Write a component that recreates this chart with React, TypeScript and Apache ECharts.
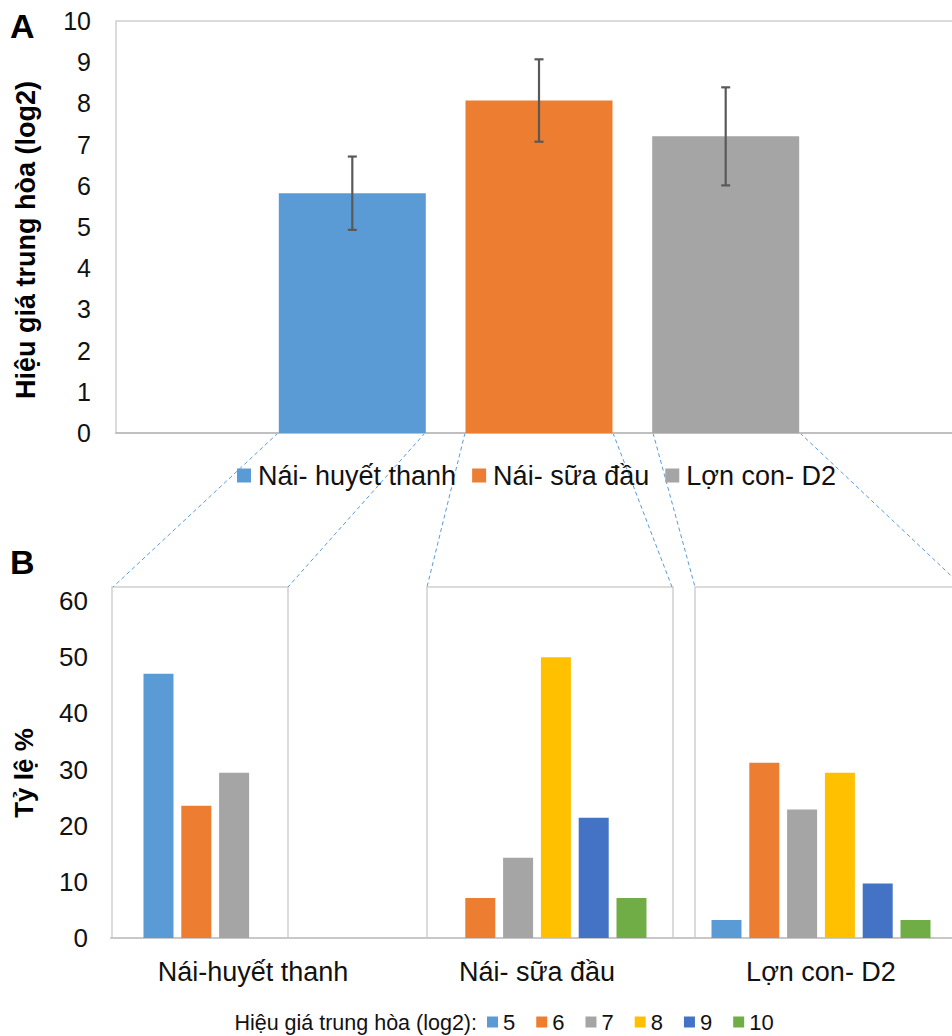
import React, { useEffect, useRef } from "react";
import * as echarts from "echarts";

// Panel A data
const groupNamesA = ["Nái- huyết thanh", "Nái- sữa đầu", "Lợn con- D2"];
const meansA = [5.82, 8.07, 7.2];
const errA = [0.89, 1.0, 1.19];
const colorsA = ["#5B9BD5", "#ED7D31", "#A5A5A5"];

// Panel B data
const categoriesB = ["Nái-huyết thanh", "Nái- sữa đầu", "Lợn con- D2"];
const levelNames = ["5", "6", "7", "8", "9", "10"];
const lvl5 = [47.06, null, 3.2];
const lvl6 = [23.53, 7.1, 31.2];
const lvl7 = [29.41, 14.3, 22.9];
const lvl8 = [null, 50.0, 29.4];
const lvl9 = [null, 21.4, 9.7];
const lvl10 = [null, 7.1, 3.2];
const levelData = [lvl5, lvl6, lvl7, lvl8, lvl9, lvl10];
const colorsB = ["#5B9BD5", "#ED7D31", "#A5A5A5", "#FFC000", "#4472C4", "#70AD47"];

const yTicksA = { min: 0, max: 10, interval: 1 };
const yTicksB = { min: 0, max: 60, interval: 10 };

const FONT = "'Liberation Sans', Arial, sans-serif";
const TXT = "#111111";
const BAR_W_A = 147;
const GAP_A = 0.27;

export default function App() {
  const ref = useRef<HTMLDivElement>(null);
  useEffect(() => {
    if (!ref.current) return;
    const chart = echarts.init(ref.current, null, { renderer: "svg" });

    const seriesA = meansA.map((v, i) => ({
      type: "bar",
      name: groupNamesA[i],
      xAxisIndex: 0,
      yAxisIndex: 0,
      data: [v],
      barWidth: BAR_W_A,
      barGap: GAP_A * 100 + "%",
      itemStyle: { color: colorsA[i] },
    }));

    const errSeries = {
      type: "custom",
      name: "err",
      xAxisIndex: 0,
      yAxisIndex: 0,
      z: 5,
      data: meansA.map((m, i) => [0, m - errA[i], m + errA[i], i]),
      renderItem: (params: any, api: any) => {
        const idx = api.value(3);
        const offset = (idx - 1) * (BAR_W_A * (1 + GAP_A));
        const lo = api.coord([api.value(0), api.value(1)]);
        const hi = api.coord([api.value(0), api.value(2)]);
        const x = lo[0] + offset;
        const st = { stroke: "#595959", lineWidth: 2.2 };
        return {
          type: "group",
          children: [
            { type: "line", shape: { x1: x, y1: lo[1], x2: x, y2: hi[1] }, style: st },
            { type: "line", shape: { x1: x - 4.5, y1: lo[1], x2: x + 4.5, y2: lo[1] }, style: st },
            { type: "line", shape: { x1: x - 4.5, y1: hi[1], x2: x + 4.5, y2: hi[1] }, style: st },
          ],
        };
      },
    };

    const seriesB = levelNames.map((n, i) => ({
      type: "bar",
      name: n,
      xAxisIndex: 1,
      yAxisIndex: 1,
      data: levelData[i],
      barWidth: 30,
      barGap: "26%",
      itemStyle: { color: colorsB[i] },
    }));

    const dash = { stroke: "#5B9BD5", lineWidth: 1, lineDash: [4, 3] };
    const boxStyle = { stroke: "#d0d0d0", lineWidth: 1.5, fill: "none" };
    const connectors = [
      [278, 433, 113, 587],
      [425, 433, 288, 587],
      [465, 433, 427, 587],
      [613, 433, 672, 587],
      [653, 433, 695, 587],
      [800, 433, 963, 587],
    ];
    const boxes = [
      [112, 587, 176, 351],
      [427, 587, 246, 351],
      [695, 587, 268, 351],
    ];

    chart.setOption({
      animation: false,
      textStyle: { fontFamily: FONT },
      grid: [
        { left: 116, top: 21, width: 846, height: 412, show: true, borderColor: "#d0d0d0", borderWidth: 1.5 },
        { left: 111, top: 601, width: 852, height: 337 },
      ],
      xAxis: [
        {
          type: "category",
          gridIndex: 0,
          data: [""],
          axisLine: { lineStyle: { color: "#c0c0c0", width: 2 } },
          axisTick: { show: false },
          axisLabel: { show: false },
        },
        {
          type: "category",
          gridIndex: 1,
          data: categoriesB,
          axisLine: { lineStyle: { color: "#c8c8c8", width: 2 } },
          axisTick: { show: false },
          axisLabel: { fontSize: 27, color: TXT, margin: 20, fontFamily: FONT },
        },
      ],
      yAxis: [
        {
          type: "value",
          gridIndex: 0,
          ...yTicksA,
          axisLine: { show: false },
          axisTick: { show: false },
          splitLine: { show: false },
          axisLabel: { fontSize: 25, color: TXT, margin: 25, fontFamily: FONT },
        },
        {
          type: "value",
          gridIndex: 1,
          ...yTicksB,
          axisLine: { show: false },
          axisTick: { show: false },
          splitLine: { show: false },
          axisLabel: { fontSize: 26, color: TXT, margin: 23, fontFamily: FONT },
        },
      ],
      legend: [
        {
          data: groupNamesA,
          left: 237,
          top: 462,
          padding: 0,
          icon: "rect",
          itemWidth: 14,
          itemHeight: 14,
          itemGap: 16,
          textStyle: { fontSize: 27, color: TXT, fontFamily: FONT, padding: [0, 0, 0, 2] },
        },
        {
          data: levelNames,
          left: 487,
          top: 1011,
          padding: 0,
          icon: "rect",
          itemWidth: 11,
          itemHeight: 11,
          itemGap: 21,
          textStyle: { fontSize: 22, color: TXT, fontFamily: FONT },
        },
      ],
      graphic: [
        ...boxes.map((b) => ({
          type: "rect",
          z: 0,
          shape: { x: b[0], y: b[1], width: b[2], height: b[3] },
          style: boxStyle,
          silent: true,
        })),
        ...connectors.map((c) => ({
          type: "line",
          z: 0,
          shape: { x1: c[0], y1: c[1], x2: c[2], y2: c[3] },
          style: dash,
          silent: true,
        })),
        {
          type: "text",
          x: 10,
          y: 26,
          style: { text: "A", font: `bold 34px ${FONT}`, fill: "#000", verticalAlign: "middle" },
        },
        {
          type: "text",
          x: 10,
          y: 562,
          style: { text: "B", font: `bold 34px ${FONT}`, fill: "#000", verticalAlign: "middle" },
        },
        {
          type: "text",
          x: 26,
          y: 240,
          rotation: Math.PI / 2,
          style: {
            text: "Hiệu giá trung hòa (log2)",
            font: `bold 27px ${FONT}`,
            fill: "#000",
            align: "center",
            verticalAlign: "middle",
          },
        },
        {
          type: "text",
          x: 24,
          y: 773,
          rotation: Math.PI / 2,
          style: {
            text: "Tỷ lệ %",
            font: `bold 26px ${FONT}`,
            fill: "#000",
            align: "center",
            verticalAlign: "middle",
          },
        },
        {
          type: "text",
          x: 477,
          y: 1023,
          style: {
            text: "Hiệu giá trung hòa (log2):",
            font: `21.5px ${FONT}`,
            fill: TXT,
            align: "right",
            verticalAlign: "middle",
          },
        },
      ],
      series: [...seriesA, errSeries, ...seriesB],
    });
    return () => chart.dispose();
  }, []);
  return (
    <div
      style={{
        position: "absolute",
        left: 0,
        top: 0,
        width: 952,
        height: 1036,
        overflow: "hidden",
        background: "#fff",
      }}
    >
      <div ref={ref} style={{ width: 990, height: 1036 }} />
    </div>
  );
}
